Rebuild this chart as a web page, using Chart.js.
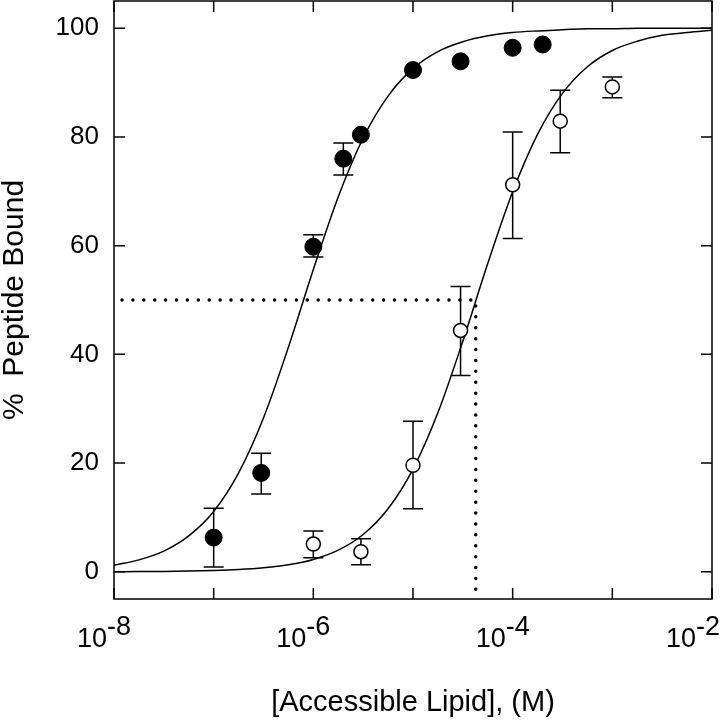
<!DOCTYPE html>
<html lang="en">

<head>
    <meta charset="UTF-8">
    <title>% Peptide Bound</title>
    <style>
        body { margin: 0; background: #fff; }
        #wrap { width: 720px; height: 720px; }
    </style>
</head>

<body>
    <div id="wrap"><canvas id="myChart" width="720" height="720"></canvas></div>
    <script src="https://cdn.jsdelivr.net/npm/chart.js@4/dist/chart.umd.min.js"></script>
    <script>
        // measured points, filled circles
        const filledX = [1e-7, 3e-7, 1e-6, 2e-6, 3e-6, 1e-5, 3e-5, 1e-4, 2e-4]
        const filledY = [6.3, 18.2, 59.8, 76.0, 80.4, 92.3, 93.9, 96.4, 97.0]
        const filledLo = [0.9, 14.3, 57.9, 73.0, null, null, null, null, null]
        const filledHi = [11.7, 21.8, 62.0, 78.9, null, null, null, null, null]

        // measured points, open circles
        const openX = [1e-6, 3e-6, 1e-5, 3e-5, 1e-4, 3e-4, 1e-3]
        const openY = [5.1, 3.7, 19.6, 44.4, 71.2, 82.9, 89.2]
        const openLo = [2.6, 1.3, 11.6, 36.1, 61.3, 77.1, 87.2]
        const openHi = [7.5, 6.1, 27.7, 52.5, 80.9, 88.6, 91.0]

        // fitted curves
        const curveX = [1e-8, 1.78e-8, 3.16e-8, 5.62e-8, 1e-7, 1.78e-7, 3.16e-7, 5.62e-7,
            1e-6, 1.78e-6, 3.16e-6, 5.62e-6, 1e-5, 1.78e-5, 3.16e-5, 5.62e-5,
            1e-4, 1.78e-4, 3.16e-4, 5.62e-4, 1e-3, 1.78e-3, 3.16e-3, 5.62e-3, 1e-2]
        const filledFit = [1.2, 2.2, 3.8, 6.6, 11.1, 18.2, 28.3, 41.3,
            55.6, 69.0, 79.8, 87.5, 92.6, 95.7, 97.5, 98.6,
            99.2, 99.5, 99.7, 99.9, 99.9, 100, 100, 100, 100]
        const openFit = [0.02, 0.04, 0.07, 0.13, 0.23, 0.41, 0.73, 1.29,
            2.28, 3.98, 6.86, 11.6, 18.9, 29.3, 42.4, 56.7,
            69.9, 80.5, 88.0, 92.9, 95.9, 97.6, 98.7, 99.2, 99.6]

        // half-binding guide (dotted)
        const guideX = [1e-8, 4.26e-5, 4.26e-5]
        const guideY = [50, 50, -5]

        const xTickMarks = [1e-8, 1e-7, 1e-6, 1e-5, 1e-4, 1e-3, 1e-2]
        const xLabelVals = [1e-8, 1e-6, 1e-4, 1e-2]
        const xLabelExps = ['-8', '-6', '-4', '-2']
        const yTicks = [0, 20, 40, 60, 80, 100]

        const FONT = "'Liberation Sans', Arial, sans-serif"

        const pts = (xs, ys) => xs.map((x, i) => ({ x: x, y: ys[i] }))

        const framePlugin = {
            id: 'frame',
            beforeDatasetsDraw(chart) {
                const ctx = chart.ctx
                const xs = chart.scales.x, ys = chart.scales.y
                ctx.save()
                ctx.strokeStyle = '#000'
                ctx.lineWidth = 1.5
                const bars = (X, lo, hi) => {
                    for (let i = 0; i < X.length; i++) {
                        if (lo[i] == null) continue
                        const px = xs.getPixelForValue(X[i])
                        const p1 = ys.getPixelForValue(lo[i])
                        const p2 = ys.getPixelForValue(hi[i])
                        ctx.beginPath()
                        ctx.moveTo(px, p1); ctx.lineTo(px, p2)
                        ctx.moveTo(px - 10, p1); ctx.lineTo(px + 10, p1)
                        ctx.moveTo(px - 10, p2); ctx.lineTo(px + 10, p2)
                        ctx.stroke()
                    }
                }
                bars(filledX, filledLo, filledHi)
                bars(openX, openLo, openHi)
                ctx.restore()
            },
            afterDraw(chart) {
                const ctx = chart.ctx
                const a = chart.chartArea
                const xs = chart.scales.x, ys = chart.scales.y
                ctx.save()
                ctx.strokeStyle = '#000'
                ctx.lineWidth = 1.5
                ctx.strokeRect(a.left, a.top, a.right - a.left, a.bottom - a.top)
                ctx.beginPath()
                for (const v of xTickMarks) {
                    const px = xs.getPixelForValue(v)
                    ctx.moveTo(px, a.bottom); ctx.lineTo(px, a.bottom - 11)
                    ctx.moveTo(px, a.top); ctx.lineTo(px, a.top + 11)
                }
                for (const v of yTicks) {
                    const py = ys.getPixelForValue(v)
                    ctx.moveTo(a.left, py); ctx.lineTo(a.left + 11, py)
                    ctx.moveTo(a.right, py); ctx.lineTo(a.right - 11, py)
                }
                ctx.stroke()

                // x tick labels with exponents
                ctx.fillStyle = '#000'
                ctx.textBaseline = 'alphabetic'
                xLabelVals.forEach((v, i) => {
                    ctx.font = '27px ' + FONT
                    const expW = ctx.measureText(xLabelExps[i]).width
                    let bx = xs.getPixelForValue(v) - 7
                    if (bx + expW > chart.width) bx = chart.width - expW
                    ctx.textAlign = 'right'
                    ctx.fillText('10', bx, 647)
                    ctx.textAlign = 'left'
                    ctx.fillText(xLabelExps[i], bx, 635)
                })
                ctx.restore()
            }
        }

        const ctx = document.querySelector('#myChart').getContext('2d')
        let chart = new Chart(ctx, {
            data: {
                datasets: [{
                    type: 'scatter',
                    data: pts(filledX, filledY),
                    backgroundColor: '#000',
                    borderColor: '#000',
                    pointRadius: 8.5,
                    order: 0
                }, {
                    type: 'scatter',
                    data: pts(openX, openY),
                    backgroundColor: '#fff',
                    borderColor: '#000',
                    borderWidth: 1.5,
                    pointRadius: 7,
                    order: 0
                }, {
                    type: 'line',
                    data: pts(curveX, filledFit),
                    borderColor: '#000',
                    borderWidth: 1.5,
                    pointRadius: 0,
                    cubicInterpolationMode: 'monotone',
                    fill: false,
                    order: 1
                }, {
                    type: 'line',
                    data: pts(curveX, openFit),
                    borderColor: '#000',
                    borderWidth: 1.5,
                    pointRadius: 0,
                    cubicInterpolationMode: 'monotone',
                    fill: false,
                    order: 1
                }, {
                    type: 'line',
                    data: pts(guideX, guideY),
                    borderColor: '#000',
                    borderWidth: 3.5,
                    borderDash: [0, 10.9],
                    borderDashOffset: -8,
                    borderCapStyle: 'round',
                    pointRadius: 0,
                    tension: 0,
                    fill: false,
                    order: 2
                }]
            },
            options: {
                responsive: false,
                animation: false,
                events: [],
                layout: { autoPadding: false, padding: { left: 0, top: 1, right: 8, bottom: 0 } },
                plugins: { legend: { display: false }, tooltip: { enabled: false } },
                scales: {
                    x: {
                        type: 'logarithmic',
                        min: 1e-8,
                        max: 1e-2,
                        grid: { display: false, drawTicks: false },
                        border: { display: false },
                        ticks: { display: false },
                        title: {
                            display: true,
                            text: '[Accessible Lipid], (M)',
                            color: '#000',
                            font: { family: FONT, size: 29 },
                            padding: { top: 0, bottom: 0 }
                        },
                        afterFit: (s) => {
                            s.height = 121
                            s.paddingLeft = 0
                            s.paddingRight = 0
                        }
                    },
                    y: {
                        type: 'linear',
                        min: -5,
                        max: 105,
                        afterBuildTicks: (s) => { s.ticks = yTicks.map(v => ({ value: v })) },
                        grid: { display: false, drawTicks: false },
                        border: { display: false },
                        ticks: {
                            color: '#000',
                            padding: 15,
                            font: { family: FONT, size: 26 }
                        },
                        title: {
                            display: true,
                            text: '%  Peptide Bound',
                            color: '#000',
                            font: { family: FONT, size: 30, lineHeight: 1 },
                            padding: { top: 0, bottom: 0 }
                        },
                        afterFit: (s) => {
                            s.width = 114
                            s.paddingTop = 0
                            s.paddingBottom = 0
                        }
                    }
                }
            },
            plugins: [framePlugin]
        })
    </script>
</body>

</html>
